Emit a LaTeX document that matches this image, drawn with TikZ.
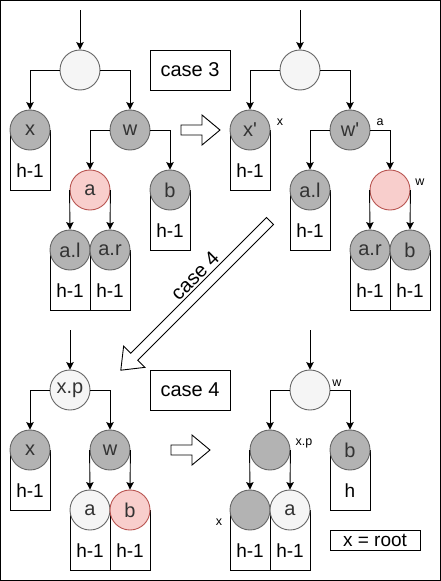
\documentclass[tikz,border=0pt]{standalone}
\usepackage{fontspec}
\setmainfont{Liberation Sans}[Ligatures=TeXOff]
\usetikzlibrary{arrows.meta}
\definecolor{grayfill}{HTML}{B3B3B3}
\definecolor{lightfill}{HTML}{F5F5F5}
\definecolor{redfill}{HTML}{F8CECC}
\definecolor{redline}{HTML}{B85450}
\definecolor{nodeline}{HTML}{666666}
\definecolor{nodetext}{HTML}{333333}

\begin{document}
\begin{tikzpicture}[x=1pt, y=-1pt, line width=0.9pt,
  every node/.style={font=\fontsize{19}{22}\selectfont},
  blk/.style={circle, draw=nodeline, fill=grayfill, text=nodetext, minimum size=40pt, inner sep=0pt, font=\fontsize{20}{23}\selectfont},
  lgt/.style={blk, fill=lightfill},
  rednode/.style={blk, draw=redline, fill=redfill},
  subtree/.style={draw, minimum width=40pt, minimum height=60pt, inner sep=0pt, anchor=north, text height=34pt, text depth=0pt},
  edge/.style={-{Stealth[length=7.5pt, width=7.5pt, inset=1.5pt]}},
  tag/.style={font=\fontsize{12.5}{15}\selectfont},
  casebox/.style={draw, minimum width=80pt, minimum height=40pt, inner sep=0pt, font=\fontsize{20}{23}\selectfont},
  hollow/.style={draw, fill=white, line join=miter}]
\useasboundingbox (0,0) rectangle (441,581);
\draw (0.5,0.5) rectangle (440.5,580.5);

% case 3, before
\coordinate (in1) at (80,10);
\node[subtree] (x1b) at (30,130) {h-1};
\node[subtree] (b1b) at (170,190) {h-1};
\node[subtree] (al1b) at (70,250) {h-1};
\node[subtree] (ar1b) at (110,250) {h-1};
\node[lgt] (r1) at (80,70) {};
\node[blk] (x1) at (30,130) {x};
\node[blk] (w1) at (130,130) {w};
\node[rednode] (a1) at (90,190) {a};
\node[blk] (b1) at (170,190) {b};
\node[blk] (al1) at (70,250) {a.l};
\node[blk] (ar1) at (110,250) {a.r};
\draw[edge] (in1) -- (r1.north);
\draw[edge] (r1.west) -| (x1.north);
\draw[edge] (r1.east) -| (w1.north);
\draw[edge] (w1.west) -| (a1.north);
\draw[edge] (w1.east) -| (b1.north);
\draw[edge] (a1.west) -- (al1.north);
\draw[edge] (a1.east) -- (ar1.north);
\node[casebox] (case3) at (190,70) {case 3};
\draw[hollow] (181,125) -- (202,125) -- (202,115) -- (220,130) -- (202,145) -- (202,135) -- (181,135) -- cycle;

% case 3, after
\coordinate (in2) at (300,10);
\node[subtree] (x2b) at (250,130) {h-1};
\node[subtree] (al2b) at (310,190) {h-1};
\node[subtree] (ar2b) at (370,250) {h-1};
\node[subtree] (b2b) at (410,250) {h-1};
\node[lgt] (r2) at (300,70) {};
\node[blk] (x2) at (250,130) {x'};
\node[blk] (w2) at (350,130) {w'};
\node[blk] (al2) at (310,190) {a.l};
\node[rednode] (a2) at (390,190) {};
\node[blk] (ar2) at (370,250) {a.r};
\node[blk] (b2) at (410,250) {b};
\node[tag] (tx2) at (280,122) {x};
\node[tag] (ta2) at (380,122) {a};
\node[tag] (tw2) at (420,182) {w};
\draw[edge] (in2) -- (r2.north);
\draw[edge] (r2.west) -| (x2.north);
\draw[edge] (r2.east) -| (w2.north);
\draw[edge] (w2.west) -| (al2.north);
\draw[edge] (w2.east) -| (a2.north);
\draw[edge] (a2.west) -- (ar2.north);
\draw[edge] (a2.east) -- (b2.north);

% case 4 arrow
\begin{scope}[shift={(270,221)}, rotate=-135]
\draw[hollow] (0,-5) -- (192,-5) -- (192,-15) -- (211,0) -- (192,15) -- (192,5) -- (0,5) -- cycle;
\end{scope}
\node[rotate=45, font=\fontsize{20}{23}\selectfont] (c4lbl) at (195,276) {case 4};

% case 4, before
\coordinate (in3) at (70,330);
\node[subtree] (x3b) at (30,450) {h-1};
\node[subtree] (a3b) at (90,510) {h-1};
\node[subtree] (b3b) at (130,510) {h-1};
\node[lgt] (xp3) at (70,390) {x.p};
\node[blk] (x3) at (30,450) {x};
\node[blk] (w3) at (110,450) {w};
\node[lgt] (a3) at (90,510) {a};
\node[rednode] (b3) at (130,510) {b};
\draw[edge] (in3) -- (xp3.north);
\draw[edge] (xp3.west) -| (x3.north);
\draw[edge] (xp3.east) -| (w3.north);
\draw[edge] (w3.west) -- (a3.north);
\draw[edge] (w3.east) -- (b3.north);
\node[casebox] (case4) at (190,390) {case 4};
\draw[hollow] (171,445) -- (192,445) -- (192,435) -- (210,450) -- (192,465) -- (192,455) -- (171,455) -- cycle;

% case 4, after
\coordinate (in4) at (310,330);
\node[subtree] (b4b) at (350,450) {h};
\node[subtree] (x4b) at (250,510) {h-1};
\node[subtree] (a4b) at (290,510) {h-1};
\node[lgt] (w4) at (310,390) {};
\node[blk] (xp4) at (270,450) {};
\node[blk] (b4) at (350,450) {b};
\node[blk] (x4) at (250,510) {};
\node[lgt] (a4) at (290,510) {a};
\node[tag] (tw4) at (337,383) {w};
\node[tag] (txp4) at (304,443) {x.p};
\node[tag] (tx4) at (219,522) {x};
\draw[edge] (in4) -- (w4.north);
\draw[edge] (w4.west) -| (xp4.north);
\draw[edge] (w4.east) -| (b4.north);
\draw[edge] (xp4.west) -- (x4.north);
\draw[edge] (xp4.east) -- (a4.north);
\node[casebox, minimum width=90pt, minimum height=20pt, font=\fontsize{19}{22}\selectfont] (root) at (375,540) {x = root};
\end{tikzpicture}
\end{document}
